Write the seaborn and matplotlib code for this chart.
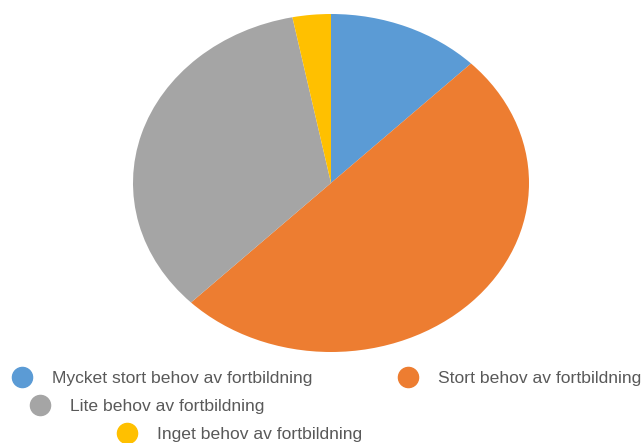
import matplotlib
matplotlib.use("Agg")
import matplotlib.pyplot as plt
from matplotlib.lines import Line2D
import seaborn as sns

categories = ["Mycket stort behov av fortbildning", "Stort behov av fortbildning",
              "Lite behov av fortbildning", "Inget behov av fortbildning"]
values = [4, 16, 11, 1]
colors = ["#5B9BD5", "#ED7D31", "#A5A5A5", "#FFC000"]

sns.set_theme(style="white")
plt.rcParams['font.family'] = ['Liberation Sans', 'DejaVu Sans']

W, H = 642, 443
fig = plt.figure(figsize=(W / 100, H / 100), dpi=100)
ax = fig.add_axes([133 / W, 1 - 352 / H, 396 / W, 338 / H])
ax.pie(values, colors=colors, startangle=90, counterclock=False,
       wedgeprops=dict(linewidth=0), radius=1)
ax.set_aspect('auto')
ax.set_xlim(-1, 1)
ax.set_ylim(-1, 1)
ax.axis('off')

# legend entries: (marker center x, marker center y) in pixels
legend_pos = [(22, 378), (408, 378), (40, 406), (127, 434)]
fs = 12.6
fs_px = fs * 100 / 72
for cat, col, (cx, cy) in zip(categories, colors, legend_pos):
    h = Line2D([], [], marker='o', linestyle='none', markersize=14.5,
               markerfacecolor=col, markeredgecolor=col)
    leg = fig.legend([h], [cat], loc='center left',
                     bbox_to_anchor=((cx - fs_px * 0.5) / W, 1 - cy / H),
                     frameon=False, fontsize=fs, handlelength=1.0,
                     handletextpad=(30 - fs_px * 0.5) / fs_px,
                     borderpad=0, borderaxespad=0)
    for t in leg.get_texts():
        t.set_color('#595959')

fig.savefig("out.png", dpi=100)
